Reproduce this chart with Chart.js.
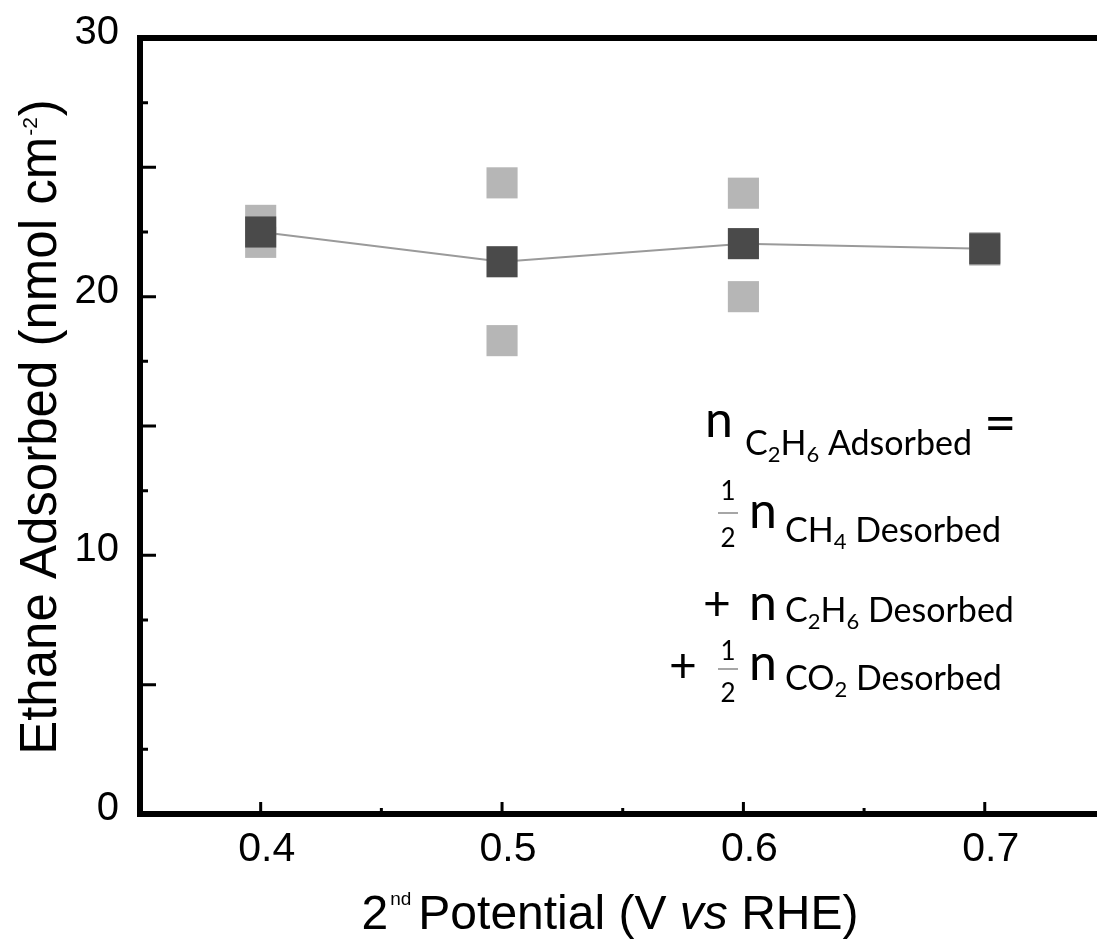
<!DOCTYPE html>
<html>
<head>
<meta charset="utf-8">
<script src="https://cdn.jsdelivr.net/npm/chart.js@4.4.1/dist/chart.umd.min.js"></script>
<style>
  html, body { margin: 0; padding: 0; background: #ffffff; }
  #wrap { width: 1097px; height: 942px; position: relative; }
</style>
</head>
<body>
<div id="wrap"><canvas id="c" width="1097" height="942"></canvas></div>
<script>
// ---------------- data ----------------
const potentials   = [0.4, 0.5, 0.6, 0.7];          // 2nd potential (V vs RHE)
const meanAdsorbed = [22.5, 21.35, 22.05, 21.85];   // mean ethane adsorbed (nmol cm-2)
const replicateA   = [22.95, 24.4, 24.0, 21.9];     // individual runs
const replicateB   = [22.1, 18.3, 20.0, 21.8];

const xTickValues = [0.4, 0.5, 0.6, 0.7];
const xTickLabels = ['0.4', '0.5', '0.6', '0.7'];
const xMinorTicks = [0.45, 0.55, 0.65];
const yTickValues = [0, 10, 20, 30];
const yTickLabels = ['0', '10', '20', '30'];
const yMajorTicks = [5, 10, 15, 20, 25];
const yMinorTicks = [2.5, 7.5, 12.5, 17.5, 22.5, 27.5];
const xRange = [0.35, 0.7465];
const yRange = [0, 30];

// ---------------- helpers ----------------
const SANS = '"Liberation Sans", Arial, sans-serif';
const EQ = 'Lato, "Open Sans", sans-serif';

function runsWidth(ctx, runs) {
  let w = 0;
  for (const r of runs) {
    ctx.font = (r.style || '') + ' ' + r.size + 'px ' + r.family;
    w += ctx.measureText(r.text).width + (r.dx || 0);
  }
  return w;
}
function drawRuns(ctx, x, baseline, runs) {
  for (const r of runs) {
    ctx.font = (r.style || '') + ' ' + r.size + 'px ' + r.family;
    x += (r.dx || 0);
    ctx.fillText(r.text, x, baseline + (r.dy || 0));
    x += ctx.measureText(r.text).width;
  }
  return x;
}
function fraction(ctx, cx, topBase, botBase, barY) {
  ctx.font = '26px ' + EQ;
  ctx.textAlign = 'center';
  ctx.fillText('1', cx, topBase);
  ctx.fillText('2', cx, botBase);
  ctx.textAlign = 'left';
  ctx.save();
  ctx.strokeStyle = '#888';
  ctx.lineWidth = 1.5;
  ctx.beginPath();
  ctx.moveTo(cx - 10, barY);
  ctx.lineTo(cx + 10, barY);
  ctx.stroke();
  ctx.restore();
}

const decor = {
  id: 'decor',
  afterDraw(chart) {
    const ctx = chart.ctx;
    const a = chart.chartArea;
    const xs = chart.scales.x, ys = chart.scales.y;
    ctx.save();
    // frame: top, left, bottom
    ctx.strokeStyle = '#000';
    ctx.lineWidth = 6;
    ctx.lineJoin = 'miter';
    ctx.beginPath();
    ctx.moveTo(a.right + 5, a.top);
    ctx.lineTo(a.left, a.top);
    ctx.lineTo(a.left, a.bottom);
    ctx.lineTo(a.right + 5, a.bottom);
    ctx.stroke();
    // inward tick marks
    ctx.lineWidth = 3;
    ctx.beginPath();
    for (const v of yMajorTicks) { const p = ys.getPixelForValue(v); ctx.moveTo(a.left, p); ctx.lineTo(a.left + 16, p); }
    for (const v of yMinorTicks) { const p = ys.getPixelForValue(v); ctx.moveTo(a.left, p); ctx.lineTo(a.left + 8, p); }
    for (const v of xTickValues) { const p = xs.getPixelForValue(v); ctx.moveTo(p, a.bottom); ctx.lineTo(p, a.bottom - 12); }
    for (const v of xMinorTicks) { const p = xs.getPixelForValue(v); ctx.moveTo(p, a.bottom); ctx.lineTo(p, a.bottom - 6); }
    ctx.stroke();

    ctx.fillStyle = '#000';
    ctx.textBaseline = 'alphabetic';
    ctx.textAlign = 'left';

    // x axis title
    const xRuns = [
      { text: '2', size: 48, family: SANS },
      { text: 'nd', size: 19, family: SANS, dy: -24, dx: 2 },
      { text: 'Potential (V ', size: 48, family: SANS, dx: 7 },
      { text: 'vs', size: 48, family: SANS, style: 'italic' },
      { text: ' RHE)', size: 48, family: SANS }
    ];
    const xw = runsWidth(ctx, xRuns);
    drawRuns(ctx, 610 - xw / 2, 929, xRuns);

    // y axis title (rotated)
    const yRuns = [
      { text: 'Ethane Adsorbed (nmol cm', size: 51, family: SANS },
      { text: '-2', size: 21, family: SANS, dy: -19, dx: 1 },
      { text: ')', size: 51, family: SANS, dx: 1 }
    ];
    const yw = runsWidth(ctx, yRuns);
    ctx.save();
    ctx.translate(38, 427);
    ctx.rotate(-Math.PI / 2);
    drawRuns(ctx, -yw / 2, 18, yRuns);
    ctx.restore();

    // equation annotation
    const sub = (t) => ({ text: t, size: 34, family: EQ });
    const idx = (t) => ({ text: t, size: 22, family: EQ, dy: 7 });
    const nn = { text: 'n', size: 50, family: EQ };
    // line 1
    drawRuns(ctx, 705, 437, [nn]);
    drawRuns(ctx, 745, 455, [sub('C'), idx('2'), sub('H'), idx('6'), sub(' Adsorbed')]);
    drawRuns(ctx, 984, 442, [{ text: '=', size: 56, family: EQ }]);
    // line 2
    fraction(ctx, 728, 500, 547, 513);
    drawRuns(ctx, 749, 528, [nn]);
    drawRuns(ctx, 785, 542, [sub('CH'), idx('4'), sub(' Desorbed')]);
    // line 3
    drawRuns(ctx, 703, 620, [{ text: '+', size: 48, family: EQ }]);
    drawRuns(ctx, 749, 620, [nn]);
    drawRuns(ctx, 785, 622, [sub('C'), idx('2'), sub('H'), idx('6'), sub(' Desorbed')]);
    // line 4
    drawRuns(ctx, 669, 682, [{ text: '+', size: 48, family: EQ }]);
    fraction(ctx, 728, 660, 702, 669);
    drawRuns(ctx, 749, 680, [nn]);
    drawRuns(ctx, 785, 690, [sub('CO'), idx('2'), sub(' Desorbed')]);

    ctx.restore();
  }
};

const toPts = (ys) => potentials.map((x, i) => ({ x: x, y: ys[i] }));

new Chart(document.getElementById('c'), {
  type: 'scatter',
  data: {
    datasets: [
      {
        label: 'Mean',
        data: toPts(meanAdsorbed),
        showLine: true,
        borderColor: '#9a9a9a',
        borderWidth: 2,
        pointStyle: 'rect',
        pointRadius: 22,
        pointHoverRadius: 22,
        pointBackgroundColor: '#4a4a4a',
        pointBorderWidth: 0
      },
      {
        label: 'Runs',
        data: toPts(replicateA).concat(toPts(replicateB)),
        showLine: false,
        pointStyle: 'rect',
        pointRadius: 22,
        pointHoverRadius: 22,
        pointBackgroundColor: '#b6b6b6',
        pointBorderWidth: 0
      }
    ]
  },
  options: {
    responsive: false,
    animation: false,
    devicePixelRatio: 1,
    layout: { autoPadding: false, padding: { top: 38, right: 0, left: 0, bottom: 0 } },
    plugins: { legend: { display: false }, tooltip: { enabled: false } },
    scales: {
      x: {
        type: 'linear',
        min: xRange[0],
        max: xRange[1],
        afterBuildTicks: (s) => { s.ticks = xTickValues.map(v => ({ value: v })); },
        afterFit: (s) => { s.height = 942 - 814; s.paddingLeft = 0; s.paddingRight = 0; },
        grid: { display: false, drawTicks: false },
        border: { display: false },
        ticks: {
          autoSkip: false, maxRotation: 0, padding: 11, labelOffset: 6,
          color: '#000',
          font: { family: SANS, size: 41 },
          callback: (v) => xTickLabels[xTickValues.indexOf(v)]
        }
      },
      y: {
        type: 'linear',
        min: yRange[0],
        max: yRange[1],
        afterBuildTicks: (s) => { s.ticks = yTickValues.map(v => ({ value: v })); },
        afterFit: (s) => { s.width = 140; s.paddingTop = 0; s.paddingBottom = 0; },
        grid: { display: false, drawTicks: false },
        border: { display: false },
        ticks: {
          padding: 21, labelOffset: -5,
          color: '#000',
          font: { family: SANS, size: 40 },
          callback: (v) => yTickLabels[yTickValues.indexOf(v)]
        }
      }
    }
  },
  plugins: [decor]
});
</script>
</body>
</html>
